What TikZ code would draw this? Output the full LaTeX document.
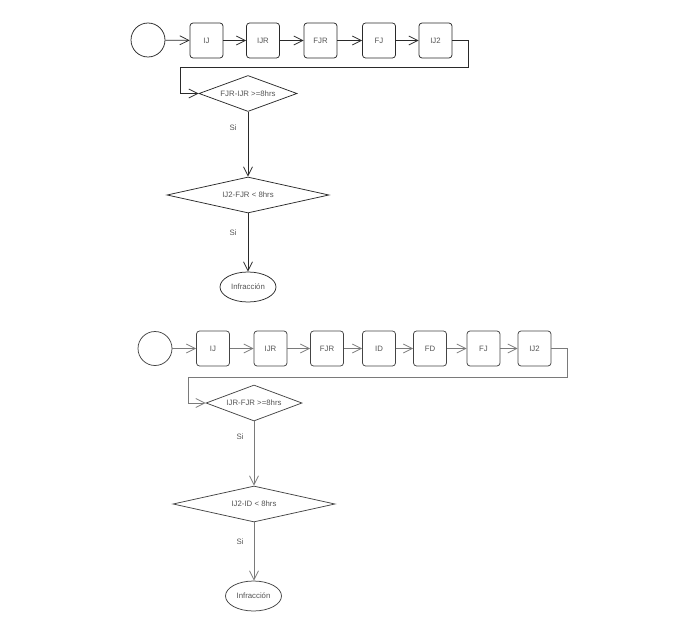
\documentclass[tikz,border=0pt]{standalone}
\usepackage{fontspec}
\setmainfont{Liberation Sans}
\usetikzlibrary{shapes.geometric,arrows.meta}
\definecolor{linetop}{HTML}{2A2A2A}
\definecolor{linebot}{HTML}{7A7A7A}
\definecolor{boxbot}{HTML}{444444}
\definecolor{txt}{HTML}{555555}
\tikzset{
  lbl/.style={font=\fontsize{7.8}{8}\selectfont, text=txt},
  stepbox/.style={draw, rounded corners=3pt, minimum width=33pt, minimum height=35pt, inner sep=0pt, lbl, line width=0.75pt},
  startc/.style={draw, circle, minimum size=34pt, inner sep=0pt, line width=0.75pt},
  decis/.style={draw, diamond, inner sep=0pt, lbl, line width=0.75pt},
  endell/.style={draw, ellipse, minimum width=56pt, minimum height=30pt, inner sep=0pt, lbl, line width=0.75pt},
  conn/.style={line width=0.75pt, -{Straight Barb[length=9pt,width=9pt]}},
  silbl/.style={lbl}
}
\begin{document}
\begin{tikzpicture}[x=1pt,y=-1pt]
\useasboundingbox (0,0) rectangle (698,623);
% ---------- top diagram ----------
\node[startc, draw=linetop] (c1) at (148,40) {};
\node[stepbox, draw=linetop] (a1) at (206.5,40.5) {IJ};
\node[stepbox, draw=linetop] (a2) at (263,40.5) {IJR};
\node[stepbox, draw=linetop] (a3) at (320.5,40.5) {FJR};
\node[stepbox, draw=linetop] (a4) at (379,40.5) {FJ};
\node[stepbox, draw=linetop] (a5) at (435.5,40.5) {IJ2};
\node[decis, draw=linetop, minimum width=98pt, minimum height=36pt, aspect=2.72] (d1) at (248,93.5) {FJR-IJR >=8hrs};
\node[decis, draw=linetop, minimum width=162pt, minimum height=36pt, aspect=4.5] (d2) at (248,195) {IJ2-FJR < 8hrs};
\node[endell, draw=linetop] (e1) at (248,287) {Infracción};
\coordinate (p1) at (468,40.5);
\coordinate (p2) at (468,67.5);
\coordinate (p3) at (180,67.5);
\coordinate (p4) at (180,93.5);
\draw[conn, draw=linetop] (c1) -- (a1);
\draw[conn, draw=linetop] (a1) -- (a2);
\draw[conn, draw=linetop] (a2) -- (a3);
\draw[conn, draw=linetop] (a3) -- (a4);
\draw[conn, draw=linetop] (a4) -- (a5);
\draw[conn, draw=linetop] (a5.east) -- (p1) -- (p2) -- (p3) -- (p4) -- (d1.west);
\draw[conn, draw=linetop] (d1.south) -- (d2.north);
\draw[conn, draw=linetop] (d2.south) -- (e1.north);
\node[silbl] (s1) at (233,128) {Si};
\node[silbl] (s2) at (233,233) {Si};
% ---------- bottom diagram ----------
\node[startc, draw=boxbot] (c2) at (155,348.5) {};
\node[stepbox, draw=boxbot] (b1) at (213,348.5) {IJ};
\node[stepbox, draw=boxbot] (b2) at (270.5,348.5) {IJR};
\node[stepbox, draw=boxbot] (b3) at (327,348.5) {FJR};
\node[stepbox, draw=boxbot] (b4) at (379,348.5) {ID};
\node[stepbox, draw=boxbot] (b5) at (430,348.5) {FD};
\node[stepbox, draw=boxbot] (b6) at (483.5,348.5) {FJ};
\node[stepbox, draw=boxbot] (b7) at (534.5,348.5) {IJ2};
\node[decis, draw=boxbot, minimum width=96pt, minimum height=36pt, aspect=2.67] (f1) at (254,403) {IJR-FJR >=8hrs};
\node[decis, draw=boxbot, minimum width=162pt, minimum height=36pt, aspect=4.5] (f2) at (254,504) {IJ2-ID < 8hrs};
\node[endell, draw=boxbot] (e2) at (253.5,596) {Infracción};
\coordinate (q1) at (567,348.5);
\coordinate (q2) at (567,377);
\coordinate (q3) at (188,377);
\coordinate (q4) at (188,403);
\draw[conn, draw=linebot] (c2) -- (b1);
\draw[conn, draw=linebot] (b1) -- (b2);
\draw[conn, draw=linebot] (b2) -- (b3);
\draw[conn, draw=linebot] (b3) -- (b4);
\draw[conn, draw=linebot] (b4) -- (b5);
\draw[conn, draw=linebot] (b5) -- (b6);
\draw[conn, draw=linebot] (b6) -- (b7);
\draw[conn, draw=linebot] (b7.east) -- (q1) -- (q2) -- (q3) -- (q4) -- (f1.west);
\draw[conn, draw=linebot] (f1.south) -- (f2.north);
\draw[conn, draw=linebot] (f2.south) -- (f2.south |- e2.north);
\node[silbl] (s3) at (240,437) {Si};
\node[silbl] (s4) at (240,542) {Si};
\end{tikzpicture}
\end{document}
